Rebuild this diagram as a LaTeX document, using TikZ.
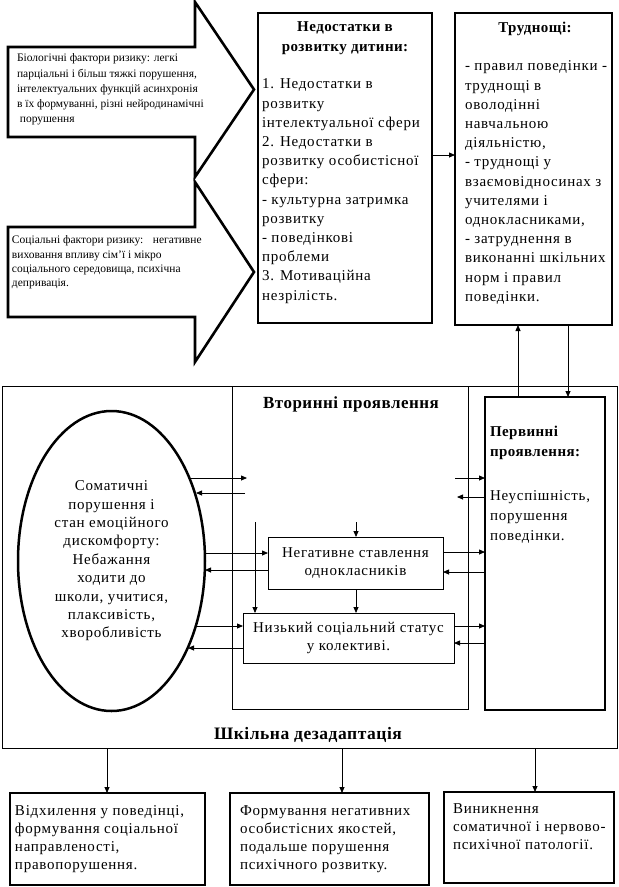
\documentclass[tikz,border=0pt]{standalone}
\usepackage{fontspec}
\setmainfont{Liberation Serif}
\newfontfamily\spc{Liberation Serif}[LetterSpace=5]
\newfontfamily\spb{Liberation Serif}[LetterSpace=3]
\usetikzlibrary{arrows.meta,shapes.geometric}
\begin{document}
\begin{tikzpicture}[x=1pt,y=-1pt,
  every node/.style={inner sep=0pt, outer sep=0pt},
  heavybox/.style={draw, line width=2.6pt, rectangle},
  lightbox/.style={draw, line width=0.8pt, rectangle},
  blockarrow/.style={draw, line width=2.6pt, line join=miter},
  conn/.style={line width=0.8pt, -{Triangle[length=6pt,width=5pt]}},
  bodytxt/.style={font=\spc\fontsize{15}{19.2}\selectfont, align=left},
  boldtxt/.style={font=\spb\bfseries\fontsize{15}{20}\selectfont},
  smalltxt/.style={font=\fontsize{11.5}{15.2}\selectfont, align=left},
  bottxt/.style={font=\spc\fontsize{15}{17.8}\selectfont, align=left}]
\fill[white] (0,0) rectangle (619,887);
\useasboundingbox (0,0) rectangle (619,887);

% block arrows
\draw[blockarrow] (8,47) -- (195,47) -- (195,2) -- (254,89.5) -- (195,177) -- (195,137) -- (8,137) -- cycle;
\draw[blockarrow] (8,227) -- (195,227) -- (195,182) -- (254,272) -- (195,362) -- (195,317) -- (8,317) -- cycle;
\node[smalltxt, anchor=north west] (bio) at (17,54) {Біологічні фактори ризику: легкі\\парціальні і більш тяжкі порушення,\\інтелектуальних функцій асинхронія\\в їх формуванні, різні нейродинамічні\\\ порушення};
\node[smalltxt, anchor=north west, font=\fontsize{11.5}{14.2}\selectfont] (soc) at (12,236) {Соціальні фактори ризику: \ \ негативне\\виховання впливу сім’ї і мікро\\соціального середовища, психічна\\депривація.};

% top boxes
\node[heavybox, minimum width=174pt, minimum height=310pt] (def) at (345,168) {};
\node[boldtxt, align=center, anchor=north] (defT) at (345,22) {Недостатки в\\розвитку дитини:};
\node[bodytxt, anchor=north west] (defB) at (262,79) {1. Недостатки в\\розвитку\\інтелектуальної сфери\\2. Недостатки в\\розвитку особистісної\\сфери:\\- культурна затримка\\розвитку\\- поведінкові\\проблеми\\3. Мотиваційна\\незрілість.};

\node[heavybox, minimum width=157pt, minimum height=312pt] (dif) at (533.5,169) {};
\node[boldtxt, anchor=north] (difT) at (535,22) {Труднощі:};
\node[bodytxt, anchor=north west] (difB) at (465,61) {- правил поведінки -\\труднощі в\\оволодінні\\навчальною\\діяльністю,\\- труднощі у\\взаємовідносинах з\\учителями і\\однокласниками,\\- затруднення в\\виконанні шкільних\\норм і правил\\поведінки.};

% middle section
\node[lightbox, minimum width=615pt, minimum height=362pt] (outer) at (309.5,567) {};
\node[lightbox, minimum width=236pt, minimum height=323pt] (sec) at (350,547.5) {};
\node[font=\spb\bfseries\fontsize{17}{20}\selectfont, anchor=base] (secT) at (351,408) {Вторинні проявлення};
\node[font=\spb\bfseries\fontsize{17.5}{20}\selectfont, anchor=base] (outT) at (308,739) {Шкільна дезадаптація};

\node[heavybox, minimum width=120pt, minimum height=313pt] (prim) at (545,553.5) {};
\node[boldtxt, align=left, anchor=north west] (primT) at (490,426) {Первинні\\проявлення:};
\node[bodytxt, anchor=north west, font=\spc\fontsize{15}{20}\selectfont] (primB) at (490,491) {Неуспішність,\\порушення\\поведінки.};

\node[lightbox, minimum width=175pt, minimum height=52pt, align=center, font=\spc\fontsize{15}{18}\selectfont] (neg) at (355.5,563) {Негативне ставлення\\однокласників};
\node[lightbox, minimum width=211pt, minimum height=50pt, align=center, font=\spc\fontsize{15}{18}\selectfont] (low) at (348.5,638) {Низький соціальний статус\\у колективі.};

\node[draw, ellipse, line width=2.5pt, minimum width=187pt, minimum height=300pt, align=center, font=\spc\fontsize{15}{18.4}\selectfont] (som) at (111.5,561) {Соматичні\\порушення і\\стан емоційного\\дискомфорту:\\Небажання\\ходити до\\школи, учитися,\\плаксивість,\\хворобливість};

% bottom boxes
\node[heavybox, minimum width=195pt, minimum height=92pt] (b1) at (107.5,839) {};
\node[heavybox, minimum width=199pt, minimum height=92pt] (b2) at (329.5,839) {};
\node[heavybox, minimum width=170pt, minimum height=91pt] (b3) at (529,837.5) {};
\node[bottxt, anchor=north west] (b1t) at (15,806) {Відхилення у поведінці,\\формування соціальної\\направленості,\\правопорушення.};
\node[bottxt, anchor=north west] (b2t) at (240,806) {Формування негативних\\особистісних якостей,\\подальше порушення\\психічного розвитку.};
\node[bottxt, anchor=north west] (b3t) at (453,804) {Виникнення\\соматичної і нервово-\\психічної патології.};

% connectors top
\draw[conn] (def.east |- 0,155) -- (dif.west |- 0,155);
\draw[conn] (prim.north -| 518,0) -- (dif.south -| 518,0);
\draw[conn] (dif.south -| 568,0) -- (prim.north -| 568,0);

% connectors from ellipse
\coordinate (s1) at (190,478); \coordinate (f1) at (247,478);
\draw[conn] (s1) -- (f1);
\coordinate (f2) at (245,493); \coordinate (s2) at (196,493);
\draw[conn] (f2) -- (s2);
\coordinate (s3) at (205,553); \draw[conn] (s3) -- (neg.west |- s3);
\coordinate (s4) at (205,570); \draw[conn] (neg.west |- s4) -- (s4);
\coordinate (s5) at (196,626); \draw[conn] (s5) -- (low.west |- s5);
\coordinate (s6) at (188,648); \draw[conn] (low.west |- s6) -- (s6);

% connectors to primary
\coordinate (r1) at (455,478); \draw[conn] (r1) -- (prim.west |- r1);
\coordinate (r2) at (457,497); \draw[conn] (prim.west |- r2) -- (r2);
\draw[conn] (neg.east |- 0,552) -- (prim.west |- 0,552);
\draw[conn] (prim.west |- 0,572) -- (neg.east |- 0,572);
\draw[conn] (low.east |- 0,626) -- (prim.west |- 0,626);
\draw[conn] (prim.west |- 0,643) -- (low.east |- 0,643);

% vertical
\coordinate (v1) at (356,522); \draw[conn] (v1) -- (neg.north -| v1);
\draw[conn] (neg.south -| v1) -- (low.north -| v1);
\coordinate (v2) at (255,522); \draw[conn] (v2) -- (low.north -| v2);

% bottom
\draw[conn] (outer.south -| 107,0) -- (b1.north -| 107,0);
\draw[conn] (outer.south -| 342,0) -- (b2.north -| 342,0);
\draw[conn] (outer.south -| 535,0) -- (b3.north -| 535,0);
\end{tikzpicture}
\end{document}
